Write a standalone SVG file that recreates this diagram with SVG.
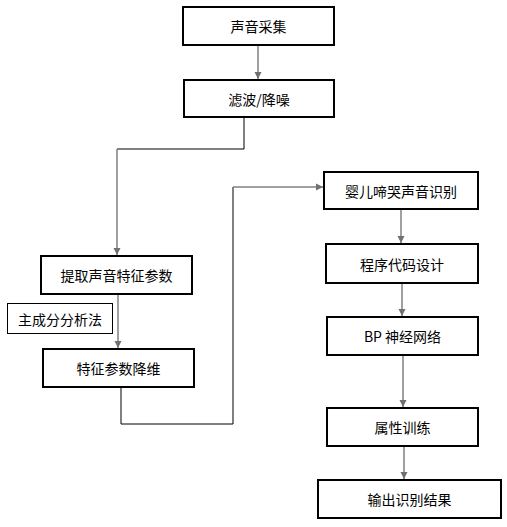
<svg xmlns="http://www.w3.org/2000/svg" width="507" height="527" viewBox="0 0 507 527">
<style>
.box{fill:#fff;stroke:#000;stroke-width:2}
.thin{fill:#fff;stroke:#000;stroke-width:1}
.t{font-family:"Noto Sans CJK SC","Liberation Sans",sans-serif;font-size:14px;fill:#000;text-anchor:middle;dominant-baseline:central}
.a{fill:none;stroke:#808080;stroke-width:1.5;marker-end:url(#ah)}
.l{fill:none;stroke:#000;stroke-width:1}
.lg{fill:none;stroke:#808080;stroke-width:1.5}
</style>
<defs>
<marker id="ah" markerWidth="8" markerHeight="8" refX="7" refY="4" orient="auto" markerUnits="userSpaceOnUse">
<path d="M0,0.5 L7,4 L0,7.5 Z" fill="#707070"/>
</marker>
</defs>
<rect width="507" height="527" fill="#fff"/>
<g id="connectors">
<path class="a" d="M258,45 V79"/>
<path class="l" d="M244,117 V149 H117"/>
<path class="a" d="M117,149 V255"/>
<path class="a" d="M118,294 V348"/>
<path class="l" d="M121,387 V424 H233 V187"/>
<path class="a" d="M233,187 H323"/>
<path class="a" d="M401,209 V243"/>
<path class="a" d="M402,283 V316"/>
<path class="a" d="M403,355 V407"/>
<path class="a" d="M404,446 V479"/>
</g>
<g id="n1"><rect class="box" x="183" y="7" width="151" height="38"/><text class="t" x="258.5" y="26">声音采集</text></g>
<g id="n2"><rect class="box" x="184" y="80" width="150" height="37"/><text class="t" x="259" y="98.5">滤波/降噪</text></g>
<g id="n3"><rect class="box" x="41" y="256" width="151" height="38"/><text class="t" x="116.5" y="275">提取声音特征参数</text></g>
<g id="n4"><rect class="thin" x="7.5" y="303.5" width="105" height="30"/><text class="t" x="60" y="318.5">主成分分析法</text></g>
<g id="n5"><rect class="box" x="43" y="349" width="151" height="38"/><text class="t" x="118.5" y="368">特征参数降维</text></g>
<g id="n6"><rect class="box" x="324" y="172" width="154" height="37"/><text class="t" x="401" y="190.5">婴儿啼哭声音识别</text></g>
<g id="n7"><rect class="box" x="326" y="244" width="152" height="39"/><text class="t" x="402" y="263.5">程序代码设计</text></g>
<g id="n8"><rect class="box" x="327" y="317" width="151" height="38"/><text class="t" x="402.5" y="336">BP 神经网络</text></g>
<g id="n9"><rect class="box" x="327" y="408" width="151" height="38"/><text class="t" x="402.5" y="427">属性训练</text></g>
<g id="n10"><rect class="box" x="318" y="480" width="183" height="38"/><text class="t" x="409.5" y="499">输出识别结果</text></g>
</svg>
